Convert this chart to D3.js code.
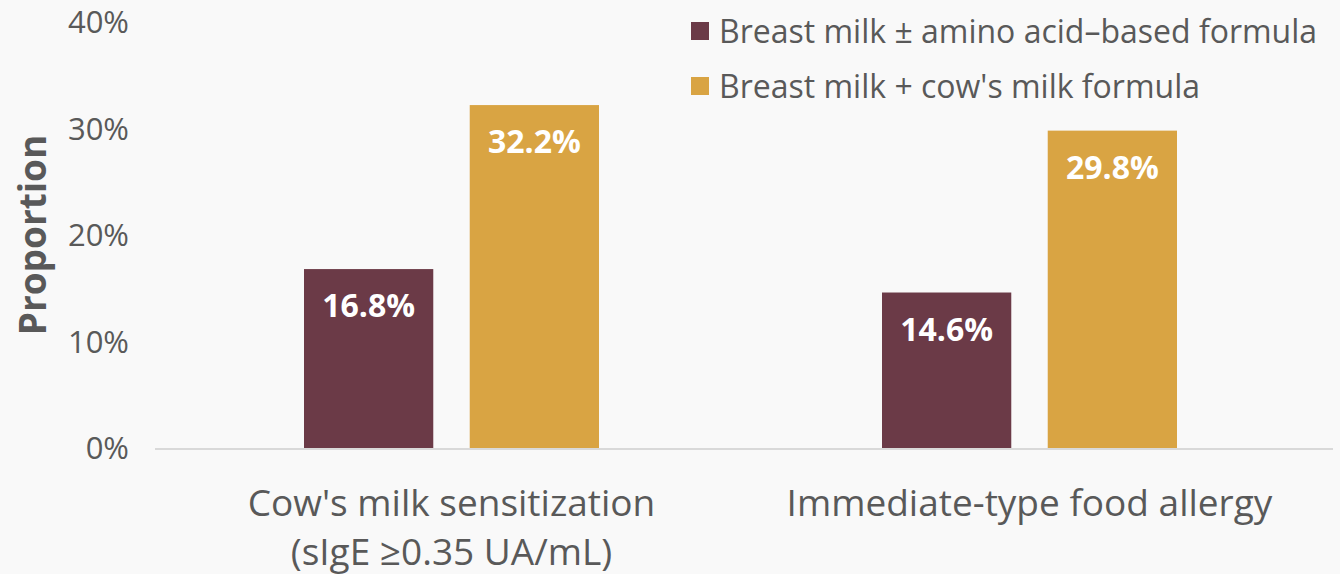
<!DOCTYPE html>
<html>
<head>
<meta charset="utf-8">
<script src="https://cdn.jsdelivr.net/npm/d3@7"></script>
<style>
  body { margin: 0; background: #f9f9f9; }
  svg { display: block; font-family: "Open Sans", sans-serif; }
</style>
</head>
<body>
<div class="chart"></div>
<script>
// data
var categories = [["Cow's milk sensitization", "(sIgE \u22650.35 UA/mL)"], ["Immediate-type food allergy"]];
var categoryKeys = ["sens", "allergy"];
var seriesNames = ["Breast milk \u00b1 amino acid\u2013based formula", "Breast milk + cow's milk formula"];
var seriesColors = ["#6b3a47", "#d9a443"];
var aminoValues = [16.8, 14.6];
var cowValues = [32.2, 29.8];
var yTicks = [0, 10, 20, 30, 40];

var width = 1340, height = 574;
var textColor = "#595959";

var svg = d3.select(".chart").append("svg")
    .attr("width", width)
    .attr("height", height);

var y = d3.scaleLinear()
    .domain([0, 40])
    .range([448, 22]);

var x0 = d3.scaleBand()
    .domain(categoryKeys)
    .range([162.5, 1318.5]);

var x1 = d3.scaleBand()
    .domain([0, 1])
    .range([-147.5, 147.5])
    .paddingInner(0.22);

// y tick labels
svg.append("g")
  .selectAll("text")
  .data(yTicks)
  .enter()
  .append("text")
    .attr("x", 129)
    .attr("y", function(d) { return y(d); })
    .attr("dy", "0.36em")
    .attr("text-anchor", "end")
    .style("font-size", "31px")
    .style("fill", textColor)
    .text(function(d) { return d + "%"; });

// y title
svg.append("text")
    .attr("transform", "translate(46,235) rotate(-90)")
    .attr("text-anchor", "middle")
    .style("font-size", "37px")
    .style("font-weight", "bold")
    .style("fill", textColor)
    .text("Proportion");

// baseline
svg.append("line")
    .attr("x1", 155)
    .attr("x2", 1333)
    .attr("y1", y(0) + 1)
    .attr("y2", y(0) + 1)
    .style("stroke", "#d9d9d9")
    .style("stroke-width", 2);

var rows = categoryKeys.map(function(k, i) {
  return { key: k, values: [aminoValues[i], cowValues[i]] };
});

var groups = svg.selectAll(".grp")
    .data(rows)
    .enter()
    .append("g")
    .attr("class", "grp")
    .attr("transform", function(d) {
      return "translate(" + (x0(d.key) + x0.bandwidth() / 2) + ",0)";
    });

var bars = groups.selectAll("g.bar")
    .data(function(d) { return d.values.map(function(v, s) { return { s: s, v: v }; }); })
    .enter()
    .append("g")
    .attr("class", "bar");

bars.append("rect")
    .attr("x", function(d) { return x1(d.s); })
    .attr("width", x1.bandwidth())
    .attr("y", function(d) { return y(d.v); })
    .attr("height", function(d) { return y(0) - y(d.v); })
    .style("fill", function(d) { return seriesColors[d.s]; });

bars.append("text")
    .attr("x", function(d) { return x1(d.s) + x1.bandwidth() / 2; })
    .attr("y", function(d) { return y(d.v) + 48; })
    .attr("text-anchor", "middle")
    .style("font-size", "32px")
    .style("font-weight", "bold")
    .style("fill", "#ffffff")
    .text(function(d) { return d.v.toFixed(1) + "%"; });

// category labels
var catLabels = svg.selectAll(".cat")
    .data(categoryKeys)
    .enter()
    .append("text")
    .attr("class", "cat")
    .attr("x", function(d) { return x0(d) + x0.bandwidth() / 2; })
    .attr("y", 516)
    .attr("text-anchor", "middle")
    .style("font-size", "37px")
    .style("fill", textColor);

catLabels.selectAll("tspan")
    .data(function(d, i) { return categories[i]; })
    .enter()
    .append("tspan")
    .attr("x", function() { return d3.select(this.parentNode).attr("x"); })
    .attr("dy", function(d, i) { return i === 0 ? 0 : 49; })
    .text(function(d) { return d; });

// legend
var legend = svg.selectAll(".legend")
    .data(seriesNames)
    .enter()
    .append("g")
    .attr("class", "legend")
    .attr("transform", function(d, i) { return "translate(691," + (22 + i * 55) + ")"; });

legend.append("rect")
    .attr("width", 18)
    .attr("height", 18)
    .style("fill", function(d, i) { return seriesColors[i]; });

legend.append("text")
    .attr("x", 28)
    .attr("y", 9)
    .attr("dy", "0.36em")
    .style("font-size", "32px")
    .style("fill", textColor)
    .text(function(d) { return d; });
</script>
</body>
</html>
